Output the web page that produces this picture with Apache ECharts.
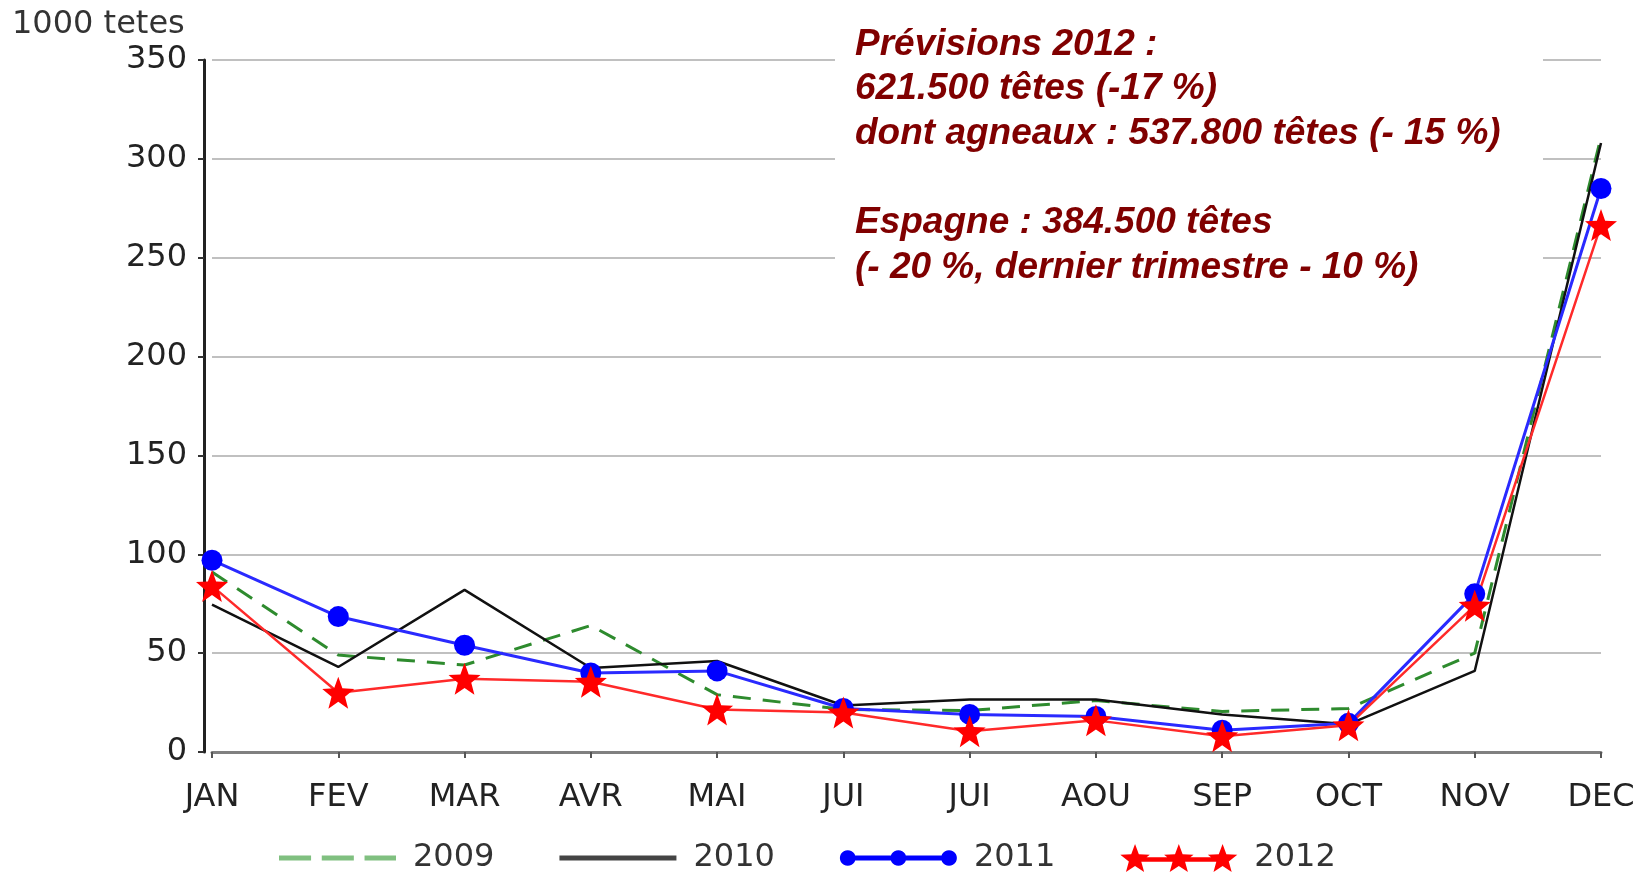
<!DOCTYPE html>
<html>
<head>
<meta charset="utf-8">
<script src="https://cdn.jsdelivr.net/npm/echarts@6/dist/echarts.min.js"></script>
<style>
  html, body { margin: 0; padding: 0; background: #fff; }
  #chart { width: 1641px; height: 872px; }
</style>
</head>
<body>
<div id="chart"></div>
<script>
// mois
var months = ['JAN', 'FEV', 'MAR', 'AVR', 'MAI', 'JUI', 'JUI', 'AOU', 'SEP', 'OCT', 'NOV', 'DEC']
var yTicks = [0, 50, 100, 150, 200, 250, 300, 350]

// 1000 tetes
var y2009 = [91, 49, 44, 64, 29, 21.5, 21, 26, 20.5, 22, 50, 311]
var y2010 = [74.5, 43, 82, 42.5, 46, 23.5, 26.5, 26.5, 19, 14, 41, 308]
var y2011 = [97, 68.5, 54, 40, 41, 22, 19, 18, 11, 14.5, 80, 285]
var y2012 = [84, 30, 37, 35.5, 21.5, 20, 10.5, 16, 8, 13.5, 74, 266.5]

var noteLines = [
  'Prévisions 2012 :',
  '621.500 têtes (-17 %)',
  'dont agneaux : 537.800 têtes (- 15 %)',
  '',
  'Espagne : 384.500 têtes',
  '(- 20 %, dernier trimestre - 10 %)'
]

var FONT = '"DejaVu Sans", sans-serif'

// formes des symboles
function starPts(cx, cy, R, r) {
  var s = ''
  for (var i = 0; i < 10; i++) {
    var a = (-90 + i * 36) * Math.PI / 180
    var rad = i % 2 === 0 ? R : r
    s += (i === 0 ? 'M' : 'L') + (cx + rad * Math.cos(a)).toFixed(1) + ',' + (cy + rad * Math.sin(a)).toFixed(1)
  }
  return s + 'Z'
}
function circlePts(cx, cy, r) {
  var s = ''
  for (var i = 0; i < 24; i++) {
    var a = (i * 15) * Math.PI / 180
    s += (i === 0 ? 'M' : 'L') + (cx + r * Math.cos(a)).toFixed(1) + ',' + (cy + r * Math.sin(a)).toFixed(1)
  }
  return s + 'Z'
}
function rect(x0, x1, y0, y1) {
  return 'M' + x0 + ',' + y0 + 'L' + x1 + ',' + y0 + 'L' + x1 + ',' + y1 + 'L' + x0 + ',' + y1 + 'Z'
}
var bar = rect(50, 333, 43, 57)
var starSymbol = 'path://' + starPts(50, 50, 50, 21)
var legendStars = 'path://' + starPts(50, 50, 50, 21) + starPts(191.5, 50, 50, 21) + starPts(333, 50, 50, 21) + bar
var legendDots = 'path://' + circlePts(50, 50, 22) + circlePts(191.5, 50, 22) + circlePts(333, 50, 22) + bar
var legendDash = 'path://' + rect(0, 105, 0, 16) + rect(140, 245, 0, 16) + rect(280, 383, 0, 16)
var legendLine = 'path://' + rect(0, 383, 0, 16)

var chart = echarts.init(document.getElementById('chart'))
var option = {
  animation: false,
  backgroundColor: '#fff',
  title: {
    text: '1000 tetes',
    left: 12,
    top: 9,
    padding: 0,
    textStyle: { fontFamily: FONT, fontSize: 32, fontWeight: 'normal', color: '#333' }
  },
  grid: { left: 212, right: 40, top: 60, bottom: 120 },
  legend: {
    left: 274,
    top: 837,
    itemWidth: 117,
    itemHeight: 28,
    itemGap: 65,
    textStyle: { fontFamily: FONT, fontSize: 32, color: '#333', padding: [0, 0, 0, 12] },
    data: [
      { name: '2009', icon: legendDash, itemStyle: { color: '#80c080' } },
      { name: '2010', icon: legendLine, itemStyle: { color: '#444' } },
      { name: '2011', icon: legendDots },
      { name: '2012', icon: legendStars }
    ]
  },
  xAxis: {
    type: 'category',
    data: months,
    boundaryGap: false,
    offset: 8,
    axisLine: { lineStyle: { color: '#808080', width: 3 } },
    axisTick: { show: true, length: 6, lineStyle: { color: '#555', width: 2 } },
    axisLabel: { fontFamily: FONT, fontSize: 32, color: '#222', margin: 22 },
    splitLine: { show: false }
  },
  yAxis: {
    type: 'value',
    min: yTicks[0],
    max: yTicks[yTicks.length - 1],
    interval: 50,
    offset: 8,
    axisLine: { show: true, lineStyle: { color: '#222', width: 3 } },
    axisTick: { show: true, length: 6, lineStyle: { color: '#333', width: 2 } },
    axisLabel: { fontFamily: FONT, fontSize: 32, color: '#222', margin: 17 },
    splitLine: {
      lineStyle: {
        color: ['rgba(0,0,0,0)', '#c0c0c0', '#c0c0c0', '#c0c0c0', '#c0c0c0', '#c0c0c0', '#c0c0c0', '#c0c0c0'],
        width: 2
      }
    }
  },
  graphic: [
    {
      type: 'rect',
      z: 20,
      silent: true,
      shape: { x: 835, y: 0, width: 708, height: 290 },
      style: { fill: '#fff' }
    },
    {
      type: 'text',
      z: 21,
      silent: true,
      x: 855,
      y: 22,
      style: {
        text: noteLines.join('\n'),
        font: 'italic bold 37px "Liberation Sans", Arial, sans-serif',
        fill: '#800000',
        lineHeight: 44.7,
        verticalAlign: 'top'
      }
    }
  ],
  series: [
    {
      name: '2009',
      type: 'line',
      data: y2009,
      symbol: 'none',
      itemStyle: { color: '#2e8b2e' },
      lineStyle: { color: '#2e8b2e', width: 3, type: [18, 12] }
    },
    {
      name: '2010',
      type: 'line',
      data: y2010,
      symbol: 'none',
      itemStyle: { color: '#111' },
      lineStyle: { color: '#111', width: 2.5 }
    },
    {
      name: '2011',
      type: 'line',
      data: y2011,
      symbol: 'circle',
      symbolSize: 21,
      itemStyle: { color: '#0000ff' },
      lineStyle: { color: '#2a2aff', width: 3 }
    },
    {
      name: '2012',
      type: 'line',
      data: y2012,
      symbol: starSymbol,
      symbolSize: 32,
      itemStyle: { color: '#ff0000' },
      lineStyle: { color: '#ff2a2a', width: 2.5 }
    }
  ]
}
chart.setOption(option)
</script>
</body>
</html>
